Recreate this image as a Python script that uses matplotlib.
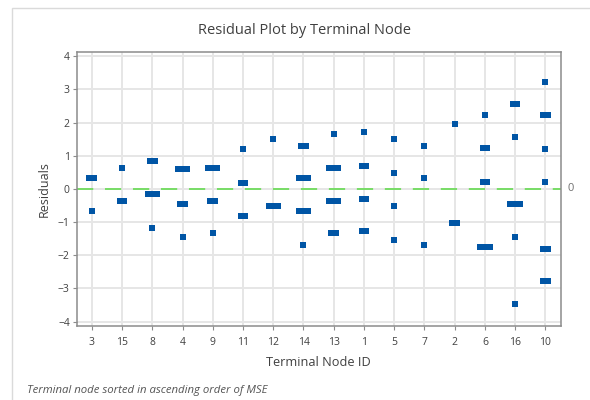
import matplotlib
matplotlib.use('Agg')
import matplotlib.pyplot as plt
from matplotlib.patches import Rectangle

plt.rcParams['font.family'] = ['Open Sans', 'DejaVu Sans']

# Terminal nodes, sorted in ascending order of MSE
node_ids = ['3', '15', '8', '4', '9', '11', '12', '14', '13', '1', '5', '7', '2', '6', '16', '10']

# One entry per plotted residual group: node, residual, number of overlapping observations
pt_node = ['3', '3',
           '15', '15',
           '8', '8', '8',
           '4', '4', '4',
           '9', '9', '9',
           '11', '11', '11',
           '12', '12',
           '14', '14', '14', '14',
           '13', '13', '13', '13',
           '1', '1', '1', '1',
           '5', '5', '5', '5',
           '7', '7', '7',
           '2', '2',
           '6', '6', '6', '6',
           '16', '16', '16', '16', '16',
           '10', '10', '10', '10', '10', '10']
pt_resid = [0.33, -0.67,
            0.63, -0.35,
            0.84, -0.15, -1.19,
            0.59, -0.46, -1.44,
            0.63, -0.35, -1.33,
            1.20, 0.17, -0.82,
            1.51, -0.51,
            1.30, 0.33, -0.67, -1.70,
            1.66, 0.63, -0.35, -1.33,
            1.71, 0.68, -0.30, -1.28,
            1.51, 0.48, -0.51, -1.54,
            1.30, 0.32, -1.70,
            1.97, -1.03,
            2.23, 1.25, 0.22, -1.75,
            2.55, 1.56, -0.46, -1.44, -3.46,
            3.22, 2.23, 1.20, 0.22, -1.80, -2.79]
pt_count = [2, 1,
            1, 2,
            2, 3, 1,
            3, 2, 1,
            3, 2, 1,
            1, 2, 2,
            1, 3,
            2, 3, 3, 1,
            1, 3, 3, 2,
            1, 2, 2, 2,
            1, 1, 1, 1,
            1, 1, 1,
            1, 2,
            1, 2, 2, 3,
            2, 1, 3, 1, 1,
            1, 2, 1, 1, 2, 2]

BLUE = '#0055A5'
GREEN = '#6FDB5C'
GRID = '#E6E6E6'
SPINE = '#8C8C8C'
TXT = '#404040'

fig = plt.figure(figsize=(5.9, 4.0), dpi=100)
ax = fig.add_axes([0.130, 0.186, 0.820, 0.684])

# light outer frame (cropped at right/bottom like the screenshot)
fig.patches.append(Rectangle((12 / 590, -0.2), 1.3, 0.98 + 0.2, transform=fig.transFigure,
                             fill=False, edgecolor='#DADADA', linewidth=1.0))

xpos = {n: i for i, n in enumerate(node_ids)}
step = 0.155  # side-by-side spacing for overlapping observations
for n, r, c in zip(pt_node, pt_resid, pt_count):
    for k in range(c):
        ax.plot(xpos[n] + (k - (c - 1) / 2) * step, r, 's', color=BLUE,
                markersize=4.0, markeredgewidth=0, zorder=3)

ax.axhline(0, color=GREEN, linewidth=1.3, dashes=(9, 6.5), zorder=2)

ax.set_xlim(-0.5, len(node_ids) - 0.5)
ax.set_ylim(-4.12, 4.13)
ax.set_xticks(range(len(node_ids)))
ax.set_xticklabels(node_ids)
ax.set_yticks(range(-4, 5))
ax.grid(True, color=GRID, linewidth=1.4)
ax.set_axisbelow(True)
for s in ax.spines.values():
    s.set_color(SPINE)
    s.set_linewidth(1.1)
ax.tick_params(axis='both', length=3, width=0.8, color=SPINE, labelsize=7.5,
               labelcolor=TXT, pad=2)
ax.tick_params(axis='x', pad=5)

ax.text(1.015, 0, '0', transform=ax.get_yaxis_transform(), ha='left', va='center',
        fontsize=8, color='#707070')

fig.text(305 / 590, 1 - 31 / 400, 'Residual Plot by Terminal Node', ha='center', va='center',
         fontsize=10.5, color=TXT)
ax.set_xlabel('Terminal Node ID', fontsize=9.2, color=TXT, labelpad=6)
ax.set_ylabel('Residuals', fontsize=9, color=TXT, labelpad=5)
fig.text(27 / 590, 1 - 391 / 400, 'Terminal node sorted in ascending order of MSE',
         ha='left', va='center', fontsize=8.2, style='italic', color='#555555')

fig.savefig('out.png', dpi=100)
